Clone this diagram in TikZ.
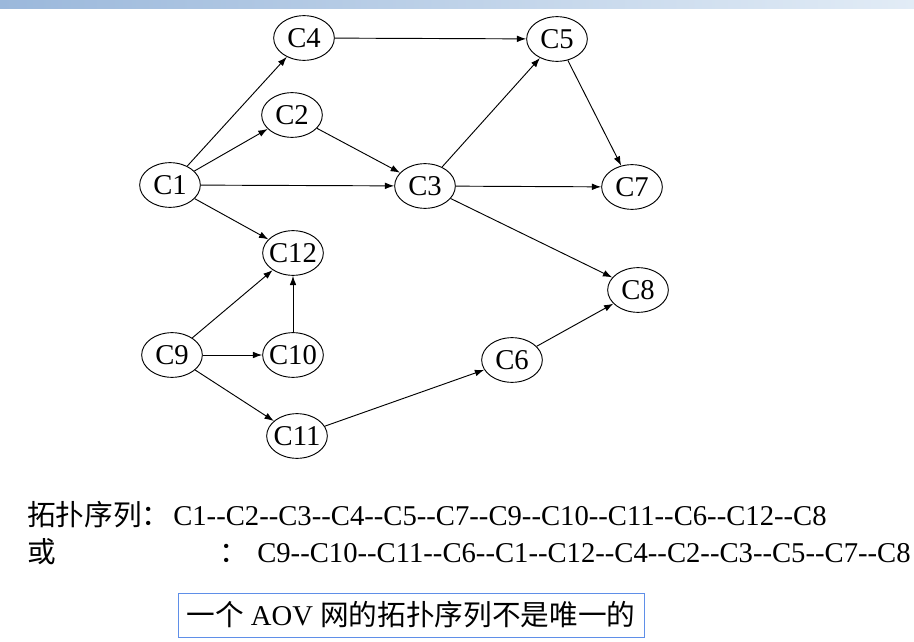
\documentclass[tikz,border=0pt]{standalone}
\usepackage{fontspec}
\setmainfont{Liberation Serif}
\newfontfamily\cjk{Noto Sans CJK SC}
\usetikzlibrary{shapes.geometric,arrows.meta}
\definecolor{hdrL}{HTML}{9BB8DB}
\definecolor{hdrR}{HTML}{E2ECF6}
\definecolor{boxblue}{HTML}{5F8FE8}
\newcommand{\dd}{-{}-}
\begin{document}
\begin{tikzpicture}[x=0.75pt,y=-0.75pt,
  vx/.style={draw,ellipse,line width=0.7pt,inner xsep=-2pt,inner ysep=0pt,
    minimum width=45.5pt,minimum height=33.5pt,font=\fontsize{21.5}{24}\selectfont},
  ar/.style={draw,line width=0.7pt,-{Latex[length=7pt,width=5pt]}},
  txt/.style={font=\fontsize{21.5}{24}\selectfont,inner sep=0pt}]
\useasboundingbox (0,0) rectangle (914,642);
% header strip
\shade[left color=hdrL,right color=hdrR] (0,0) rectangle (914,9);
% vertices
\node[vx] (C4) at (304,38) {C4};
\node[vx] (C5) at (557,39) {C5};
\node[vx] (C2) at (292,115) {C2};
\node[vx] (C1) at (170,185) {C1};
\node[vx] (C3) at (425,186) {C3};
\node[vx] (C7) at (632,187) {C7};
\node[vx] (C12) at (293,253) {C12};
\node[vx] (C8) at (638,290) {C8};
\node[vx] (C9) at (172,355) {C9};
\node[vx] (C10) at (293,355) {C10};
\node[vx] (C6) at (512,360) {C6};
\node[vx] (C11) at (297,436) {C11};
% edges
\path[ar] (C1) -- (C4);
\path[ar] (C1) -- (C2);
\path[ar] (C1) -- (C3);
\path[ar] (C1) -- (C12);
\path[ar] (C2) -- (C3);
\path[ar] (C4) -- (C5);
\path[ar] (C3) -- (C5);
\path[ar] (C3) -- (C7);
\path[ar] (C3) -- (C8);
\path[ar] (C5) -- (C7);
\path[ar] (C9) -- (C12);
\path[ar] (C9) -- (C10);
\path[ar] (C9) -- (C11);
\path[ar] (C10) -- (C12);
\path[ar] (C11) -- (C6);
\path[ar] (C6) -- (C8);
% sequences
\node[txt,anchor=base west] (l1a) at (27,525) {\cjk 拓扑序列：};
\node[txt,anchor=base west] (l1b) at (173,525) {C1\dd C2\dd C3\dd C4\dd C5\dd C7\dd C9\dd C10\dd C11\dd C6\dd C12\dd C8};
\node[txt,anchor=base west] (l2a) at (27,562) {\cjk 或};
\node[txt,anchor=base west] (l2c) at (219,562) {\cjk ：};
\node[txt,anchor=base west] (l2b) at (257,562) {C9\dd C10\dd C11\dd C6\dd C1\dd C12\dd C4\dd C2\dd C3\dd C5\dd C7\dd C8};
% note box
\node[draw=boxblue,line width=0.6pt,minimum width=349.5pt,minimum height=33pt,inner sep=0pt,
  font=\fontsize{21.5}{24}\selectfont] (note) at (411,615) {{\cjk 一个} AOV {\cjk 网的拓扑序列不是唯一的}};
\end{tikzpicture}
\end{document}
